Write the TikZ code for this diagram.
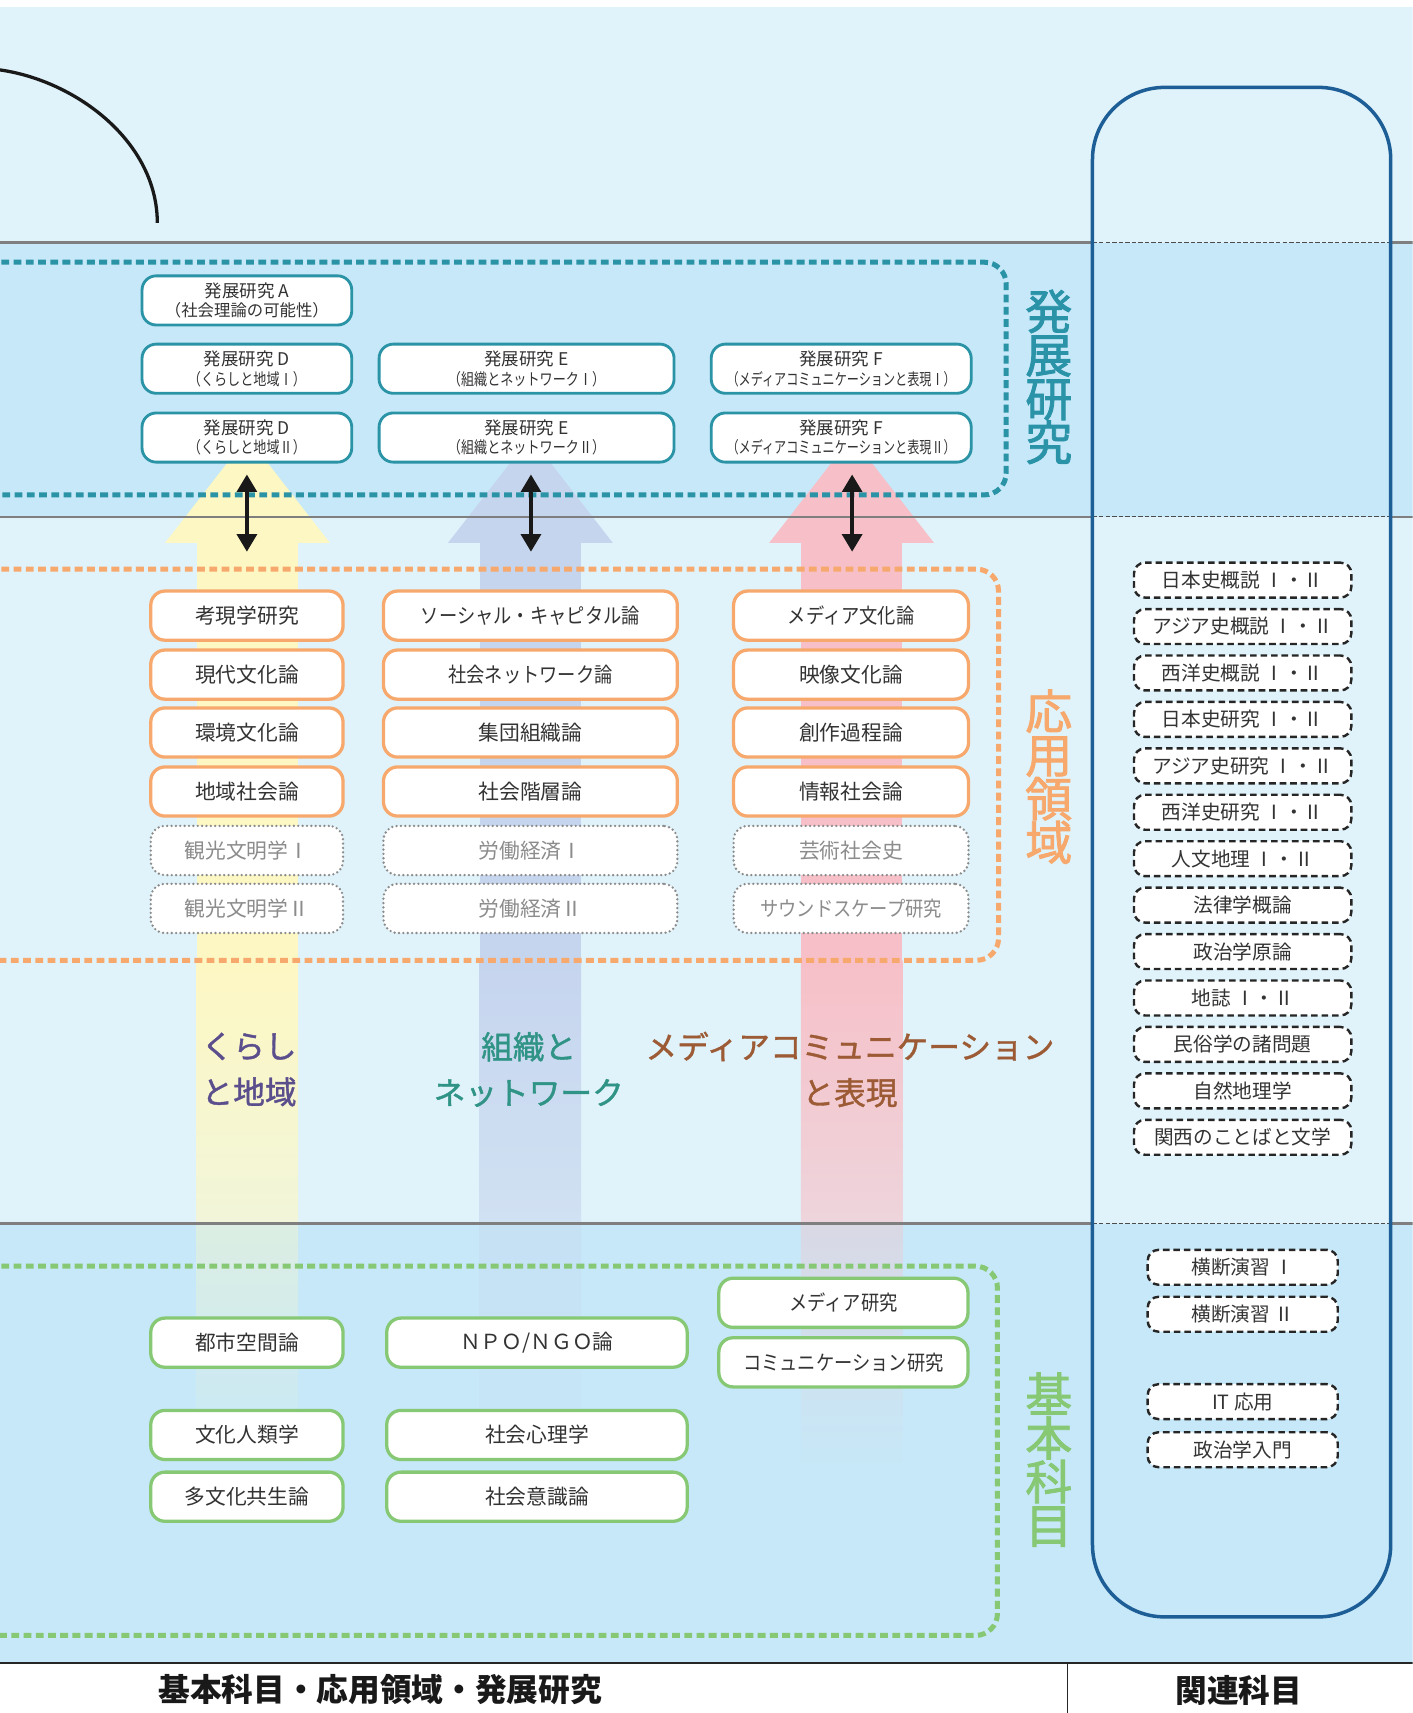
\documentclass[tikz,border=0pt]{standalone}
\usepackage{fontspec}
\setmainfont{Noto Sans CJK JP}
\newfontfamily\jp{Noto Sans CJK JP}
\newfontfamily\jpc{Noto Sans CJK JP}[FakeStretch=0.8]
\newfontfamily\jpn{Noto Sans CJK JP}[FakeStretch=0.74]
\newfontfamily\jpk{Noto Sans CJK JP}[FakeStretch=0.88]
\newfontfamily\jpm{Noto Sans CJK JP}[FakeBold=1.2]
\newfontfamily\jpv{Noto Sans CJK JP}[FakeBold=1.8]
\usetikzlibrary{arrows.meta}
\definecolor{bgL}{HTML}{E0F3FA}
\definecolor{bgD}{HTML}{C6E8F8}
\definecolor{tealc}{HTML}{2B93A6}
\definecolor{orac}{HTML}{F7A86C}
\definecolor{grnc}{HTML}{87C875}
\definecolor{rblue}{HTML}{1D5E96}
\definecolor{yel}{HTML}{FDF7C3}
\definecolor{blu}{HTML}{C6D5EE}
\definecolor{pnk}{HTML}{F7C0C8}
\definecolor{txt}{HTML}{333333}
\definecolor{gtx}{HTML}{8C8C8C}
\definecolor{linec}{HTML}{7F7F7F}
\definecolor{purp}{HTML}{5B4E8C}
\definecolor{tgrn}{HTML}{2F9385}
\definecolor{brwn}{HTML}{9C5B35}
\definecolor{htl}{HTML}{2A93A8}
\tikzset{
  basebox/.style={fill=white, rounded corners=6.5pt, inner sep=0pt, align=center, text=txt, minimum height=22.5pt},
  tbox/.style={basebox, draw=tealc, line width=1.3pt, font=\jp\fontsize{8}{9}\selectfont},
  obox/.style={basebox, draw=orac, line width=1.5pt, font=\jp\fontsize{9.5}{11}\selectfont},
  dbox/.style={basebox, draw=gtx, line width=1.2pt, dash pattern=on 0pt off 2pt, line cap=round, text=gtx, font=\jp\fontsize{9.5}{11}\selectfont},
  gbox/.style={basebox, draw=grnc, line width=1.5pt, font=\jp\fontsize{9.5}{11}\selectfont},
  rbox/.style={basebox, draw=black!85, line width=1.1pt, dash pattern=on 3pt off 1.8pt, rounded corners=5pt, minimum height=16pt, font=\jp\fontsize{9}{10}\selectfont},
  rgn/.style={line width=2.3pt, dash pattern=on 3.6pt off 2pt, rounded corners=10pt},
  dbl/.style={{Triangle[width=9pt,length=8pt]}-{Triangle[width=9pt,length=8pt]}, line width=1.8pt, black!90, shorten <=5pt},
  vlab/.style={font=\jpv\fontsize{21.5}{20}\selectfont, align=center, inner sep=0pt},
  clab/.style={font=\jpm\fontsize{14.5}{21}\selectfont, align=center, inner sep=0pt},
  hlab/.style={font=\jp\bfseries\fontsize{14.5}{16}\selectfont, text=black!90, inner sep=0pt},
}
\begin{document}
\begin{tikzpicture}[x=0.5pt,y=-0.5pt]
\useasboundingbox (0,0) rectangle (1293,1568);
\clip (0,0) rectangle (1293,1568);
% backgrounds
\fill[white] (0,0) rectangle (1293,1568);
\fill[bgL] (0,6) rectangle (1293,222);
\fill[bgD] (0,222) rectangle (1293,473);
\fill[bgL] (0,473) rectangle (1293,1120);
\fill[bgD] (0,1120) rectangle (1293,1522);
% top-left curve
\draw[black!90, line width=1.5pt] (0,64) .. controls (70,74) and (144,130) .. (144,204);
% big arrows
\fill[yel] (151,497) -- (226.5,400) -- (302,497) -- cycle;
\fill[yel] (180,496) rectangle (273,880);
\shade[top color=yel, bottom color=yel!60!bgL] (180,879.5) rectangle (273,1120);
\shade[top color=yel!40!bgD, bottom color=bgD] (180,1120) rectangle (273,1345);
\fill[blu] (410,497) -- (485.5,400) -- (561,497) -- cycle;
\fill[blu] (439,496) rectangle (532,880);
\shade[top color=blu, bottom color=blu!60!bgL] (439,879.5) rectangle (532,1120);
\shade[top color=blu!40!bgD, bottom color=bgD] (439,1120) rectangle (532,1345);
\fill[pnk] (704,497) -- (779.5,400) -- (855,497) -- cycle;
\fill[pnk] (733,496) rectangle (826,880);
\shade[top color=pnk, bottom color=pnk!60!bgL] (733,879.5) rectangle (826,1120);
\shade[top color=pnk!40!bgD, bottom color=bgD] (733,1120) rectangle (826,1345);
% band lines
\foreach \yy in {222,473,1120}{
  \draw[linec, line width=1pt] (0,\yy) -- (1000,\yy);
  \draw[linec, line width=1pt] (1273,\yy) -- (1293,\yy);
  \draw[black!70, line width=0.6pt, dash pattern=on 2pt off 1pt] (1000,\yy) -- (1273,\yy);
}
% dashed regions
\draw[rgn, tealc] (-10,240) -- (921,240) -- (921,453) -- (-10,453);
\draw[rgn, orac] (-10,521) -- (914,521) -- (914,879) -- (-10,879);
\draw[rgn, grnc] (-10,1159) -- (913,1159) -- (913,1497) -- (-10,1497);
% right rounded frame
\draw[rblue, line width=1.6pt, rounded corners=33pt] (1000,80) rectangle (1273,1480);
% development boxes
\node[tbox, minimum width=96pt] (ta) at (226,275) {発展研究 A\\{\fontsize{7.5}{9}\selectfont （社会理論の可能性）}};
\node[tbox, minimum width=96pt] (d1) at (226,337.5) {発展研究 D\\{\jpc\fontsize{7.5}{9}\selectfont （くらしと地域Ⅰ）}};
\node[tbox, minimum width=96pt] (d2) at (226,400.5) {発展研究 D\\{\jpc\fontsize{7.5}{9}\selectfont （くらしと地域Ⅱ）}};
\node[tbox, minimum width=135pt] (e1) at (482,337.5) {発展研究 E\\{\jpc\fontsize{7.5}{9}\selectfont （組織とネットワークⅠ）}};
\node[tbox, minimum width=135pt] (e2) at (482,400.5) {発展研究 E\\{\jpc\fontsize{7.5}{9}\selectfont （組織とネットワークⅡ）}};
\node[tbox, minimum width=119pt] (f1) at (770,337.5) {発展研究 F\\{\jpn\fontsize{7.5}{9}\selectfont （メディアコミュニケーションと表現Ⅰ）}};
\node[tbox, minimum width=119pt] (f2) at (770,400.5) {発展研究 F\\{\jpn\fontsize{7.5}{9}\selectfont （メディアコミュニケーションと表現Ⅱ）}};
% applied boxes
\node[obox, minimum width=88pt] (o11) at (226,563.5) {考現学研究};
\node[obox, minimum width=88pt] (o12) at (226,617.5) {現代文化論};
\node[obox, minimum width=88pt] (o13) at (226,670.5) {環境文化論};
\node[obox, minimum width=88pt] (o14) at (226,724.5) {地域社会論};
\node[dbox, minimum width=88pt] (o15) at (226,778.5) {観光文明学Ⅰ};
\node[dbox, minimum width=88pt] (o16) at (226,831.5) {観光文明学Ⅱ};
\node[obox, minimum width=134.5pt] (o21) at (485.5,563.5) {\jpk ソーシャル・キャピタル論};
\node[obox, minimum width=134.5pt] (o22) at (485.5,617.5) {\jpk 社会ネットワーク論};
\node[obox, minimum width=134.5pt] (o23) at (485.5,670.5) {集団組織論};
\node[obox, minimum width=134.5pt] (o24) at (485.5,724.5) {社会階層論};
\node[dbox, minimum width=134.5pt] (o25) at (485.5,778.5) {労働経済Ⅰ};
\node[dbox, minimum width=134.5pt] (o26) at (485.5,831.5) {労働経済Ⅱ};
\node[obox, minimum width=107.5pt] (o31) at (779,563.5) {\jpk メディア文化論};
\node[obox, minimum width=107.5pt] (o32) at (779,617.5) {映像文化論};
\node[obox, minimum width=107.5pt] (o33) at (779,670.5) {創作過程論};
\node[obox, minimum width=107.5pt] (o34) at (779,724.5) {情報社会論};
\node[dbox, minimum width=107.5pt] (o35) at (779,778.5) {芸術社会史};
\node[dbox, minimum width=107.5pt] (o36) at (779,831.5) {\jpk サウンドスケープ研究};
% basic boxes
\node[gbox, minimum width=88pt] (g11) at (226,1229) {都市空間論};
\node[gbox, minimum width=88pt] (g12) at (226,1313.5) {文化人類学};
\node[gbox, minimum width=88pt] (g13) at (226,1370) {多文化共生論};
\node[gbox, minimum width=137.5pt] (g21) at (491.5,1229) {ＮＰＯ/ＮＧＯ論};
\node[gbox, minimum width=137.5pt] (g22) at (491.5,1313.5) {社会心理学};
\node[gbox, minimum width=137.5pt] (g23) at (491.5,1370) {社会意識論};
\node[gbox, minimum width=114pt] (g31) at (772,1192.5) {\jpk メディア研究};
\node[gbox, minimum width=114pt] (g32) at (772,1247) {\jpk コミュニケーション研究};
% related subjects
\node[rbox, minimum width=99.5pt] (r1) at (1137.5,531) {日本史概説 Ⅰ・Ⅱ};
\node[rbox, minimum width=99.5pt] (r2) at (1137.5,573.5) {アジア史概説 Ⅰ・Ⅱ};
\node[rbox, minimum width=99.5pt] (r3) at (1137.5,616) {西洋史概説 Ⅰ・Ⅱ};
\node[rbox, minimum width=99.5pt] (r4) at (1137.5,658.5) {日本史研究 Ⅰ・Ⅱ};
\node[rbox, minimum width=99.5pt] (r5) at (1137.5,701) {アジア史研究 Ⅰ・Ⅱ};
\node[rbox, minimum width=99.5pt] (r6) at (1137.5,743.5) {西洋史研究 Ⅰ・Ⅱ};
\node[rbox, minimum width=99.5pt] (r7) at (1137.5,786) {人文地理 Ⅰ・Ⅱ};
\node[rbox, minimum width=99.5pt] (r8) at (1137.5,828.5) {法律学概論};
\node[rbox, minimum width=99.5pt] (r9) at (1137.5,871) {政治学原論};
\node[rbox, minimum width=99.5pt] (r10) at (1137.5,913.5) {地誌 Ⅰ・Ⅱ};
\node[rbox, minimum width=99.5pt] (r11) at (1137.5,956) {民俗学の諸問題};
\node[rbox, minimum width=99.5pt] (r12) at (1137.5,998.5) {自然地理学};
\node[rbox, minimum width=99.5pt] (r13) at (1137.5,1041) {関西のことばと文学};
\node[rbox, minimum width=87pt] (s1) at (1137.5,1160) {横断演習 Ⅰ};
\node[rbox, minimum width=87pt] (s2) at (1137.5,1203) {横断演習 Ⅱ};
\node[rbox, minimum width=87pt] (s3) at (1137.5,1283) {IT 応用};
\node[rbox, minimum width=87pt] (s4) at (1137.5,1327) {政治学入門};
% vertical labels
\node[vlab, text=htl] (lv1) at (960,345) {発\\展\\研\\究};
\node[vlab, text=orac] (lv2) at (960,711) {応\\用\\領\\域};
\node[vlab, text=grnc] (lv3) at (960,1336) {基\\本\\科\\目};
% column labels
\node[clab, text=purp] (c1) at (228,979) {くらし\\と地域};
\node[clab, text=tgrn] (c2) at (484,979) {組織と\\ネットワーク};
\node[clab, text=brwn] (c3) at (778,979) {メディアコミュニケーション\\と表現};
% double arrows
\coordinate (k1) at (226,505);
\coordinate (k2) at (486,505);
\coordinate (k3) at (780,505);
\draw[dbl] (d2.south -| k1) -- (k1);
\draw[dbl] (e2.south -| k2) -- (k2);
\draw[dbl] (f2.south -| k3) -- (k3);
% bottom header
\fill[white] (0,1522) rectangle (1293,1568);
\draw[black!85, line width=1pt] (0,1522) -- (1293,1522);
\draw[black!85, line width=0.5pt] (977,1522) -- (977,1568);
\node[hlab] (h1) at (348,1547) {基本科目・応用領域・発展研究};
\node[hlab] (h2) at (1134,1547) {関連科目};
\end{tikzpicture}
\end{document}
